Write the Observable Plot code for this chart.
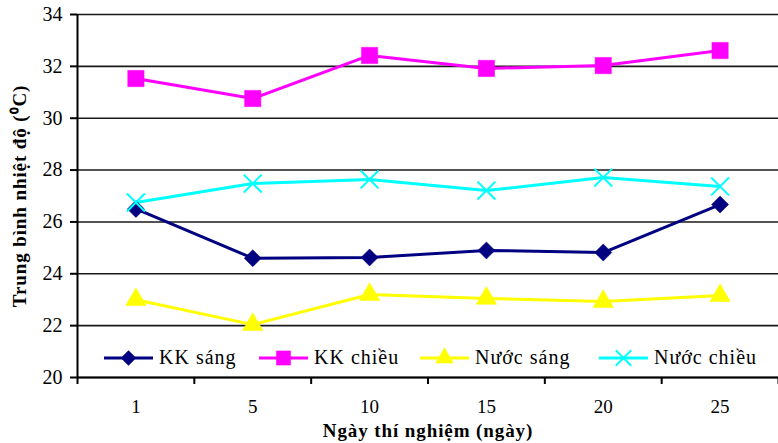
<!DOCTYPE html>
<html>
<head>
<meta charset="utf-8">
<script src="https://cdn.jsdelivr.net/npm/d3@7"></script>
<script src="https://cdn.jsdelivr.net/npm/@observablehq/plot@0.6"></script>
<style>
  html, body { margin: 0; padding: 0; background: #fff; }
  #wrap { position: relative; width: 778px; height: 443px; font-family: 'Liberation Serif', 'Times New Roman', serif; }
  #wrap svg, #wrap svg text { font-family: 'Liberation Serif', 'Times New Roman', serif !important; }
  #wrap svg g[aria-label="y-axis tick label"] text { font-size: 20px !important; }
  #wrap svg g[aria-label="x-axis tick label"] text { font-size: 19px !important; }
  #wrap svg g[aria-label="x-axis label"] text, #wrap svg g[aria-label="y-axis label"] text { font-weight: bold; font-size: 19px !important; letter-spacing: 0.9px; }
  .leg { position: absolute; top: 346px; display: flex; align-items: center; font-size: 20px; color: #000; white-space: nowrap; letter-spacing: 1px; }
  .leg svg { margin-right: 6px; }
</style>
</head>
<body>
<div id="wrap"></div>
<script>
const days = ["1", "5", "10", "15", "20", "25"];
const seriesNames = ["KK sáng", "KK chiều", "Nước sáng", "Nước chiều"];
const kkSang    = [26.5, 24.6, 24.63, 24.9, 24.82, 26.67];
const kkChieu   = [31.53, 30.76, 32.42, 31.92, 32.03, 32.61];
const nuocSang  = [23.0, 22.04, 23.2, 23.05, 22.93, 23.16];
const nuocChieu = [26.75, 27.48, 27.64, 27.21, 27.71, 27.37];
const yTicks = [20, 22, 24, 26, 28, 30, 32, 34];
const xLabel = "Ngày thí nghiệm (ngày)";
const yLabel = "Trung bình nhiệt độ (\u2070C)";

const seriesValues = [kkSang, kkChieu, nuocSang, nuocChieu];
const styles = [
  {color: "#000080", symbol: "square", rotate: 45, r: 6.8, fill: true},
  {color: "#FF00FF", symbol: "square", rotate: 0, r: 9.2, fill: true},
  {color: "#FFFF00", symbol: "triangle", rotate: 0, r: 7.6, fill: true},
  {color: "#00FFFF", symbol: "times", rotate: 0, r: 8.2, fill: false}
];
const legendLeft = [104, 259, 420, 599];

const rows = [];
seriesNames.forEach((name, s) => {
  seriesValues[s].forEach((v, i) => rows.push({series: name, s, day: days[i], pos: i + 0.5, value: v}));
});
const bounds = d3.range(0, days.length + 1);

const marks = [
  Plot.gridY(yTicks, {stroke: "#1a1a1a", strokeOpacity: 1, strokeWidth: 1.6}),
  Plot.axisY({ticks: yTicks, tickSize: 7, tickPadding: 8, stroke: "#000", strokeWidth: 2, fontSize: 20,
    label: yLabel, labelAnchor: "center", labelArrow: "none", labelOffset: 65}),
  Plot.axisX({ticks: bounds, tickSize: 7, tickFormat: () => "", stroke: "#000", strokeWidth: 2, label: null}),
  Plot.axisX({ticks: days.map((d, i) => i + 0.5), tickSize: 0, tickPadding: 22, fontSize: 19,
    tickFormat: (v) => days[Math.floor(v)], label: xLabel, labelAnchor: "center", labelArrow: "none", labelOffset: 59}),
  Plot.ruleX([0], {stroke: "#000", strokeWidth: 2}),
  Plot.ruleY([20], {stroke: "#000", strokeWidth: 2})
];
seriesNames.forEach((name, s) => {
  const data = rows.filter(d => d.s === s);
  const st = styles[s];
  marks.push(Plot.line(data, {x: "pos", y: "value", stroke: st.color, strokeWidth: 3}));
});
seriesNames.forEach((name, s) => {
  const data = rows.filter(d => d.s === s);
  const st = styles[s];
  marks.push(Plot.dot(data, {x: "pos", y: "value", symbol: st.symbol, r: st.r, rotate: st.rotate,
    fill: st.fill ? st.color : "none", stroke: st.color, strokeWidth: st.fill ? 0.5 : 2}));
});

const chart = Plot.plot({
  width: 778,
  height: 443,
  marginLeft: 77,
  marginRight: 0,
  marginTop: 14,
  marginBottom: 66,
  style: {fontFamily: "'Liberation Serif', 'Times New Roman', serif", fontSize: "19px", color: "#000", background: "#fff", overflow: "visible"},
  x: {type: "linear", domain: [0, days.length], axis: null},
  y: {domain: [20, 34], axis: null},
  marks
});
const wrap = document.getElementById("wrap");
wrap.appendChild(chart);

// Legend (inside the plot area, bottom)
seriesNames.forEach((name, s) => {
  const st = styles[s];
  const item = document.createElement("div");
  item.className = "leg";
  item.style.left = legendLeft[s] + "px";
  const sw = d3.create("svg").attr("width", 49).attr("height", 22);
  sw.append("line").attr("x1", 0).attr("x2", 49).attr("y1", 11).attr("y2", 11).attr("stroke", st.color).attr("stroke-width", 3);
  const sym = {square: d3.symbolSquare, triangle: d3.symbolTriangle, times: d3.symbolTimes}[st.symbol];
  const size = Math.PI * st.r * st.r * 0.75;
  sw.append("path").attr("d", d3.symbol(sym, size)())
    .attr("transform", `translate(24.5,11) rotate(${st.rotate})`)
    .attr("fill", st.fill ? st.color : "none").attr("stroke", st.color).attr("stroke-width", st.fill ? 0.5 : 2);
  item.appendChild(sw.node());
  const t = document.createElement("span");
  t.textContent = name;
  item.appendChild(t);
  wrap.appendChild(item);
});
</script>
</body>
</html>
